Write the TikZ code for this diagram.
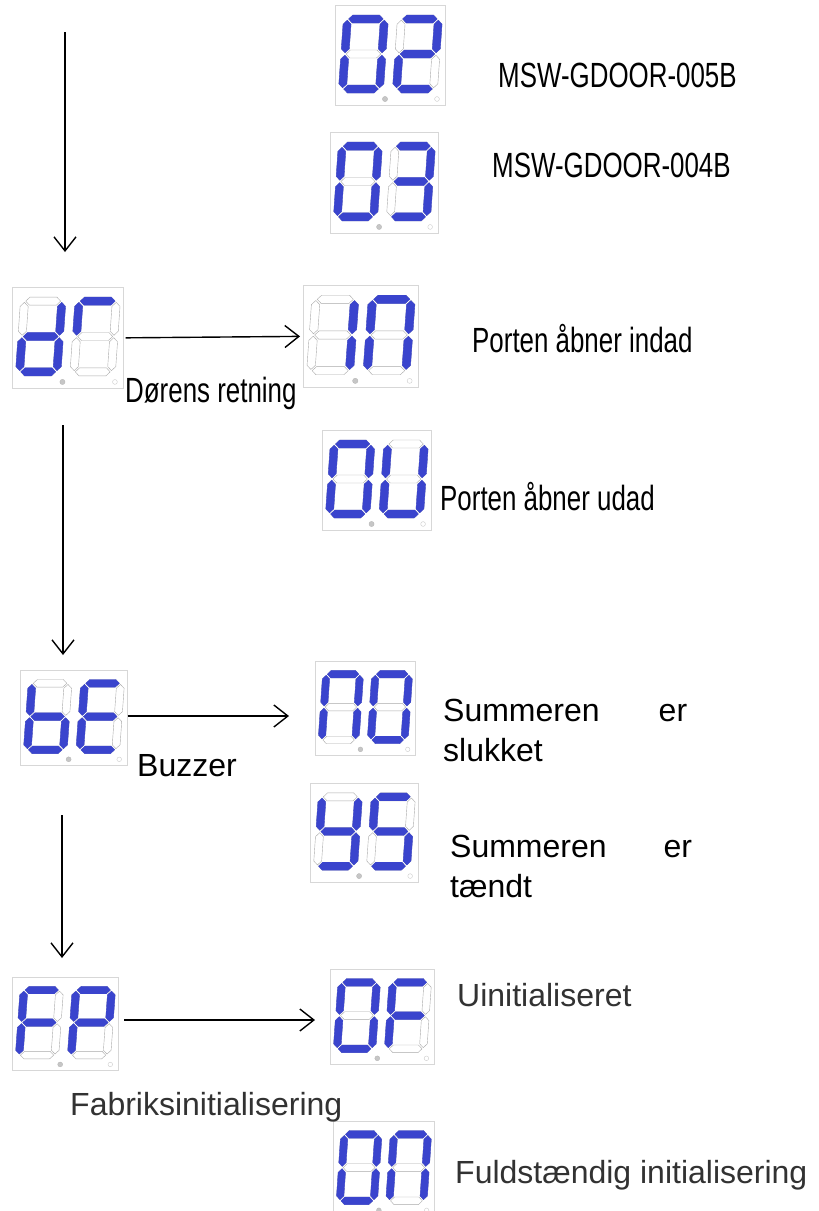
\documentclass[tikz,border=0pt]{standalone}
\usepackage{fontspec}
\setmainfont{Liberation Sans}
\usetikzlibrary{arrows.meta}
\definecolor{segblue}{RGB}{58,68,205}
\definecolor{segoff}{RGB}{170,170,170}
\definecolor{frame}{RGB}{215,215,215}
\definecolor{txtgray}{RGB}{50,50,50}

% segment shapes, local units: W=37, H=70, thickness 8
\newcommand\hsegp[2]{\path[#2] (1.2,#1) -- (5.2,#1+4) -- (31.8,#1+4) -- (35.8,#1) -- (31.8,#1-4) -- (5.2,#1-4) -- cycle;}
\newcommand\vsegp[4]{\path[#4] (#1,#2+1.2) -- (#1+4,#2+5.2) -- (#1+4,#3-5.2) -- (#1,#3-1.2) -- (#1-4,#3-5.2) -- (#1-4,#2+5.2) -- cycle;}
\newcommand\sega[1]{\hsegp{70}{#1}}
\newcommand\segg[1]{\hsegp{35}{#1}}
\newcommand\segd[1]{\hsegp{0}{#1}}
\newcommand\segb[1]{\vsegp{37}{35}{70}{#1}}
\newcommand\segc[1]{\vsegp{37}{0}{35}{#1}}
\newcommand\sege[1]{\vsegp{0}{0}{35}{#1}}
\newcommand\segf[1]{\vsegp{0}{35}{70}{#1}}

\newcommand\sevdig[3]{%
  \begin{scope}[shift={(#1,#2)}, yscale=-1, xslant=-0.07]
    \foreach \s in {a,b,c,d,e,f,g} {\csname seg\s\endcsname{draw=segoff, line width=0.4pt, fill=white}}
    \foreach \s in {#3} {\csname seg\s\endcsname{fill=segblue, draw=segblue, line width=0.3pt}}
  \end{scope}}

% #1 name, #2 x, #3 y, #4 w, #5 h, #6 digit1, #7 digit2
\newcommand\display[7]{%
  \node[draw=frame, line width=0.7pt, minimum width=#4pt, minimum height=#5pt, anchor=north west, inner sep=0pt] (#1) at (#2,#3) {};
  \begin{scope}[shift={(#2,#3)}, xscale=#4/110, yscale=#5/100]
    \sevdig{7.5}{84}{#6}
    \sevdig{61.5}{84}{#7}
    \fill[gray!45, draw=gray!60, line width=0.3pt] (50,94) circle (2.6);
    \draw[gray!40, line width=0.4pt] (102,94) circle (2.4);
  \end{scope}}

\newcommand\cond[1]{\scalebox{0.74}[1]{#1}}

\tikzset{
  arr/.style={-{Straight Barb[length=14pt,width=22pt]}, line width=1.4pt},
  lbla/.style={anchor=base west, inner sep=0pt, font=\fontsize{35}{40}\selectfont},
  lblb/.style={anchor=base west, inner sep=0pt, font=\fontsize{32}{40}\selectfont},
}

\begin{document}
\begin{tikzpicture}[x=1pt, y=-1pt]
\useasboundingbox (0,0) rectangle (819,1211);
\fill[white] (0,0) rectangle (819,1211);

% displays
\display{d02}{335}{5}{110}{100}{a,b,c,d,e,f}{a,b,g,e,d}
\display{d03}{330}{132}{108}{101}{a,b,c,d,e,f}{a,b,g,c,d}
\display{ddr}{12}{287}{111}{101}{b,c,d,e,g}{a,f}
\display{din}{303}{285}{115}{102}{b,c}{a,b,c,e,f}
\display{d0u}{322}{430}{109}{100}{a,b,c,d,e,f}{b,c,d,e,f}
\display{dbe}{20}{670}{107}{95}{f,e,g,d,c}{a,f,g,e,d}
\display{dno}{315}{661}{100}{94}{a,b,c,e,f}{a,b,c,d,e,f}
\display{dys}{310}{783}{108}{99}{f,b,g,c,d}{a,f,g,c,d}
\display{dfp}{12}{977}{106}{93}{a,f,g,e}{a,b,f,g,e}
\display{d0f}{330}{969}{104}{95}{a,b,c,d,e,f}{a,f,g,e}
\display{d0n}{333}{1121}{101}{95}{a,b,c,d,e,f}{a,b,c,e,f}

% labels
\node[lbla] (t1) at (498,87) {\cond{MSW-GDOOR-005B}};
\node[lbla] (t2) at (492,177) {\cond{MSW-GDOOR-004B}};
\node[lbla] (t3) at (472,352) {\cond{Porten åbner indad}};
\node[lbla] (t4) at (125,402) {\cond{Dørens retning}};
\node[lbla] (t5) at (440,510) {\cond{Porten åbner udad}};
\node[lblb] (t6a) at (443,721) {\makebox[244pt][s]{Summeren er}};
\node[lblb] (t6b) at (443,761) {slukket};
\node[lblb] (t7) at (137,776) {Buzzer};
\node[lblb] (t8a) at (450,857) {\makebox[242pt][s]{Summeren er}};
\node[lblb] (t8b) at (450,897) {tændt};
\node[lblb, text=txtgray] (t9) at (457,1006) {Uinitialiseret};
\node[lblb, text=txtgray] (t10) at (70,1115) {Fabriksinitialisering};
\node[lblb, text=txtgray] (t11) at (455,1183) {Fuldstændig initialisering};

% connectors
\coordinate (s1) at (65,32);
\coordinate (e1) at (65,252);
\draw[arr] (s1) -- (e1);
\draw[arr, shorten <=2pt, shorten >=3pt] (ddr.east) -- (din.west);
\coordinate (s2) at (63,425);
\coordinate (e2) at (63,655);
\draw[arr] (s2) -- (e2);
\coordinate (e3) at (289,716);
\draw[arr] (dbe.east |- e3) -- (e3);
\coordinate (s4) at (62,815);
\coordinate (e4) at (62,958);
\draw[arr] (s4) -- (e4);
\coordinate (s5) at (124,1020);
\coordinate (e5) at (315,1020);
\draw[arr] (s5) -- (e5);
\end{tikzpicture}
\end{document}
